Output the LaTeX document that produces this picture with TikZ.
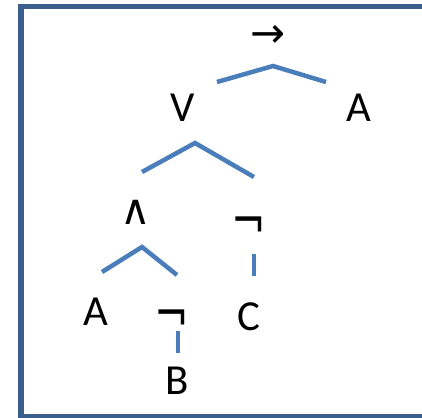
\documentclass[tikz,border=0pt]{standalone}
\usepackage{fontspec}
\setmainfont{Carlito}
\newfontfamily\symfont{DejaVu Sans}
\definecolor{framecol}{HTML}{3A5F8C}
\definecolor{edgecol}{HTML}{4A7EBB}
\begin{document}
\begin{tikzpicture}[x=1bp,y=-1bp,
  lbl/.style={inner sep=0pt, font=\fontsize{43}{50}\selectfont},
  symlbl/.style={inner sep=0pt, font=\symfont\fontsize{30}{36}\selectfont},
  notlbl/.style={inner sep=0pt, font=\symfont\fontsize{36}{42}\selectfont, xscale=1.15, yscale=1.5},
  edge/.style={draw=edgecol, line width=4.5bp}]
\useasboundingbox (0,0) rectangle (422,418);
\begin{scope}
\clip (0,0) rectangle (422,418);
\draw[framecol, line width=5bp] (21,6.5) rectangle (440,416.5);
\end{scope}
% labels
\node[symlbl, font=\symfont\fontsize{42}{48}\selectfont] (imp) at (268,36) {→};
\node[lbl] (or) at (183,108) {V};
\node[lbl] (a1) at (359,108) {A};
\node[symlbl, scale=1.4] (and) at (136,212) {∧};
\node[notlbl] (n1) at (249,228) {¬};
\node[lbl] (a2) at (96,312) {A};
\node[notlbl] (n2) at (172,321) {¬};
\node[lbl] (c) at (249,317) {C};
\node[lbl] (b) at (177,381) {B};
% edge coordinates
\coordinate (t0) at (273,66);
\coordinate (t1) at (217,82);
\coordinate (t2) at (326,82);
\coordinate (s0) at (195,143);
\coordinate (s1) at (142,172);
\coordinate (s2) at (254,177);
\coordinate (u0) at (142,247);
\coordinate (u1) at (102,272);
\coordinate (u2) at (177,275);
\coordinate (v1) at (254,254);
\coordinate (v2) at (254,276);
\coordinate (w1) at (178,331);
\coordinate (w2) at (178,353);
\draw[edge] (t1) -- (t0) -- (t2);
\draw[edge] (s1) -- (s0) -- (s2);
\draw[edge] (u1) -- (u0) -- (u2);
\draw[edge] (v1) -- (v2);
\draw[edge] (w1) -- (w2);
\end{tikzpicture}
\end{document}
